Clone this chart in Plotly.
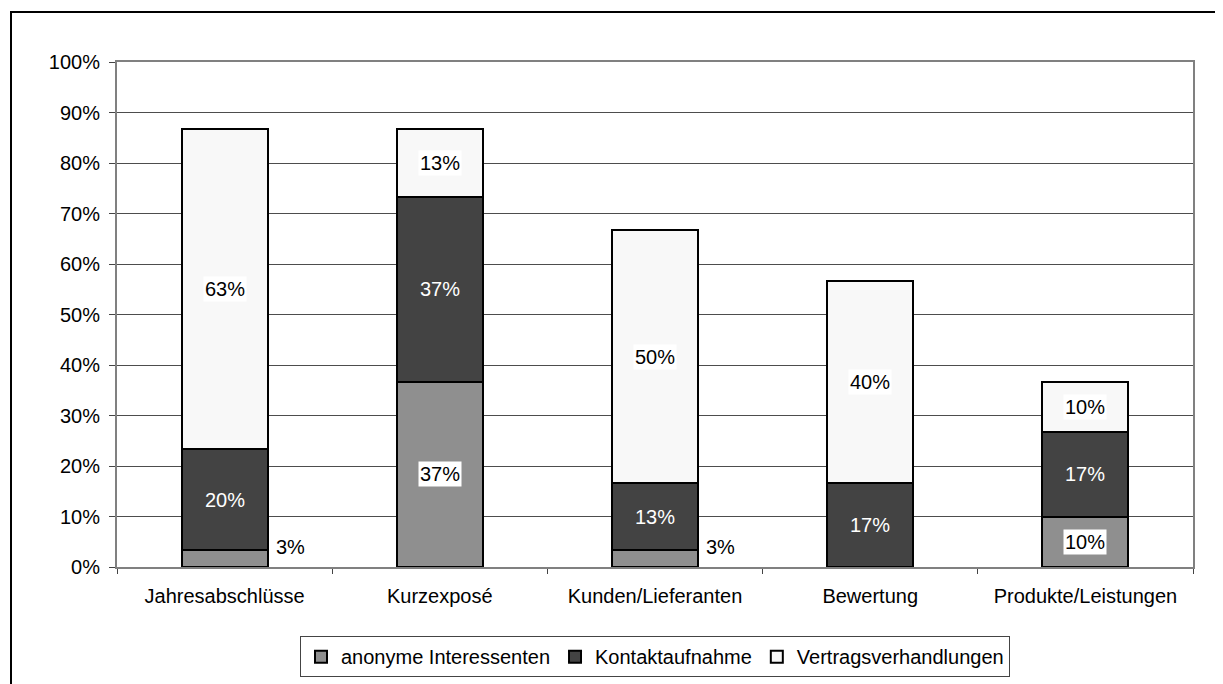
import plotly.graph_objects as go

categories = ["Jahresabschlüsse", "Kurzexposé", "Kunden/Lieferanten", "Bewertung", "Produkte/Leistungen"]
anonym = [3.33, 36.67, 3.33, 0, 10.0]
kontakt = [20.0, 36.67, 13.33, 16.67, 16.67]
vertrag = [63.33, 13.33, 50.0, 40.0, 10.0]
y_ticks = [0, 10, 20, 30, 40, 50, 60, 70, 80, 90, 100]
y_labels = [f"{v}%" for v in y_ticks]

series = [
    ("anonyme Interessenten", anonym, "#8f8f8f"),
    ("Kontaktaufnahme", kontakt, "#434343"),
    ("Vertragsverhandlungen", vertrag, "#f8f8f8"),
]

FS = 20

fig = go.Figure()
for name, vals, col in series:
    fig.add_trace(go.Bar(
        x=categories, y=vals, name=name, width=0.4,
        marker=dict(color=col, line=dict(color="#000000", width=2)),
        hoverinfo="name+y",
    ))

# data labels
annotations = []
for i, cat in enumerate(categories):
    base = 0
    for name, vals, col in series:
        v = vals[i]
        if v <= 0:
            continue
        txt = f"{round(v):.0f}%"
        if name == "Kontaktaufnahme":
            annotations.append(dict(x=cat, y=base + v / 2, text=txt, showarrow=False,
                                    font=dict(color="white", size=FS)))
        elif v < 5:
            annotations.append(dict(x=i + 0.2, y=base + v, text=txt, showarrow=False,
                                    xanchor="left", xshift=6, yshift=3,
                                    font=dict(color="black", size=FS)))
        else:
            annotations.append(dict(x=cat, y=base + v / 2, text=txt, showarrow=False,
                                    bgcolor="white", borderpad=1,
                                    font=dict(color="black", size=FS)))
        base += v

fig.update_layout(
    barmode="stack",
    width=1215, height=676,
    margin=dict(l=109, r=30, t=54, b=117, autoexpand=False),
    paper_bgcolor="white", plot_bgcolor="white",
    font=dict(family="Liberation Sans, Arial, sans-serif", size=FS, color="black"),
    annotations=annotations,
    showlegend=True,
    legend=dict(orientation="h", x=0.5, xanchor="center", y=-0.137, yanchor="top",
                bordercolor="#444444", borderwidth=1, bgcolor="white",
                font=dict(size=FS), itemwidth=30, traceorder="normal"),
    shapes=[dict(type="rect", xref="paper", yref="paper",
                 x0=(3 - 109) / 1076, x1=1.2, y0=-0.4, y1=1 + 50 / 505,
                 line=dict(color="black", width=2), fillcolor="rgba(0,0,0,0)", layer="below")],
)
fig.update_xaxes(
    type="category", tickson="boundaries", ticks="outside", ticklen=5,
    tickcolor="#444444", showgrid=False, ticklabelstandoff=10, automargin=False,
    showline=True, linecolor="#808080", linewidth=2, mirror=True,
)
fig.update_yaxes(
    range=[0, 100], tickvals=y_ticks, ticktext=y_labels,
    ticks="outside", ticklen=6, tickcolor="#444444", ticklabelstandoff=5, automargin=False,
    showgrid=True, gridcolor="#4d4d4d", gridwidth=1,
    showline=True, linecolor="#808080", linewidth=2, mirror=True,
    zeroline=False,
)

fig.write_html("out.html")
